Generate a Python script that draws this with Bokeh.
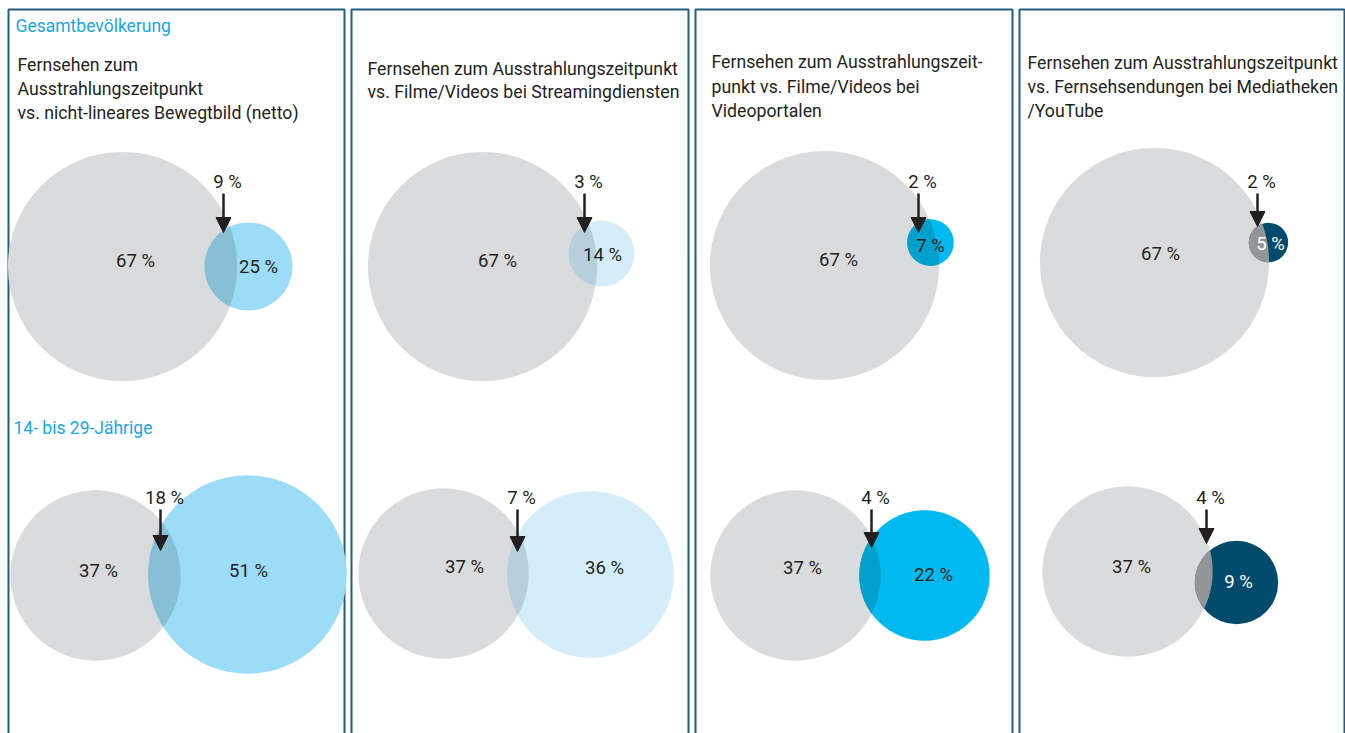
import numpy as np
from bokeh.plotting import figure
from bokeh.models import Range1d, Arrow, NormalHead
from bokeh.core.properties import value
from bokeh.embed import file_html
from bokeh.resources import INLINE

# ---------------- data ----------------
group_labels = ["Gesamtbevölkerung", "14- bis 29-Jährige"]
panel_titles = [
    ["Fernsehen zum", "Ausstrahlungszeitpunkt", "vs. nicht-lineares Bewegtbild (netto)"],
    ["Fernsehen zum Ausstrahlungszeitpunkt", "vs. Filme/Videos bei Streamingdiensten"],
    ["Fernsehen zum Ausstrahlungszeit-", "punkt vs. Filme/Videos bei", "Videoportalen"],
    ["Fernsehen zum Ausstrahlungszeitpunkt", "vs. Fernsehsendungen bei Mediatheken", "/YouTube"],
]
gesamt_tv = [67, 67, 67, 67]
gesamt_other = [25, 14, 7, 5]
gesamt_overlap = [9, 3, 2, 2]
jung_tv = [37, 37, 37, 37]
jung_other = [51, 36, 22, 9]
jung_overlap = [18, 7, 4, 4]

# ---------------- styles / layout ----------------
FONT = "Roboto"
GRAY = "#dadbdd"
DARK = "#231f20"
CYAN = "#1aa6dc"
BORDER = "#235d7e"
sec_colors = ["#9ddcf6", "#d4edf9", "#00b9ee", "#004b6c"]
lens_colors = ["#87bfd7", "#b7cfdb", "#00a0cc", "#939598"]
sec_text_colors = [DARK, DARK, DARK, "white"]

panel_lr = [(8, 344), (351, 688), (695, 1012), (1019, 1344)]
title_x = [17, 367, 711, 1027]
title_y = [[64, 88, 112], [68, 91], [61, 86, 110], [62, 86, 110]]

K_TV = 14.0
K_SEC = [8.8, 13.9]

rows = [
    dict(tv=gesamt_tv, other=gesamt_other, overlap=gesamt_overlap,
         gray_c=[(122, 266), (482, 266), (824, 265), (1154, 262)],
         sec_c=[(248, 266), (601, 253), (930, 242), (1268, 242)],
         arrow_x=[223, 584, 918, 1257], tip_y=[232, 232, 232, 226], label_y=181,
         tv_lab=[(135, 260), (497, 260), (838, 259), (1160, 253)],
         sec_lab=[(258, 266), (602, 254), (930, 245), (1270, 243)]),
    dict(tv=jung_tv, other=jung_other, overlap=jung_overlap,
         gray_c=[(95, 575), (443, 573), (795, 575), (1127, 571)],
         sec_c=[(247, 574), (590, 574), (924, 575), (1236, 582)],
         arrow_x=[160, 517, 871, 1206], tip_y=[550, 551, 547, 543], label_y=497,
         tv_lab=[(98, 570), (464, 566), (802, 567), (1131, 566)],
         sec_lab=[(248, 570), (604, 567), (933, 574), (1238, 581)]),
]
group_pos = [(15, 25), (13, 427)]


def lens(c1, r1, c2, r2, n=60):
    x1, y1 = c1
    x2, y2 = c2
    d = np.hypot(x2 - x1, y2 - y1)
    th = np.arctan2(y2 - y1, x2 - x1)
    a = (r1 ** 2 - r2 ** 2 + d ** 2) / (2 * d)
    a1 = np.arccos(np.clip(a / r1, -1, 1))
    a2 = np.arccos(np.clip((d - a) / r2, -1, 1))
    t1 = np.linspace(th - a1, th + a1, n)
    t2 = np.linspace(th + np.pi - a2, th + np.pi + a2, n)
    xs = np.concatenate([x1 + r1 * np.cos(t1), x2 + r2 * np.cos(t2)])
    ys = np.concatenate([y1 + r1 * np.sin(t1), y2 + r2 * np.sin(t2)])
    return list(xs), list(ys)


p = figure(width=1345, height=733, output_backend="svg", toolbar_location=None,
           x_range=Range1d(0, 1345), y_range=Range1d(733, 0),
           x_axis_type=None, y_axis_type=None, min_border=0)
p.grid.visible = False
p.outline_line_color = None
p.background_fill_color = "white"
p.border_fill_color = "white"

# panel frames
p.quad(left=[l for l, r in panel_lr], right=[r for l, r in panel_lr],
       top=[9] * 4, bottom=[760] * 4, fill_color=None,
       line_color=BORDER, line_width=2)

# group headings
for (gx, gy), g in zip(group_pos, group_labels):
    p.text(x=[gx], y=[gy], text=[g], text_font=value(FONT), text_font_size="17.5px",
           text_color=CYAN, text_align="left", text_baseline="middle")

# titles
for i, lines in enumerate(panel_titles):
    p.text(x=[title_x[i]] * len(lines), y=title_y[i][:len(lines)], text=lines,
           text_font=value(FONT), text_font_size="17.7px", text_color=DARK,
           text_align="left", text_baseline="middle")

for ri, row in enumerate(rows):
    r_tv = [K_TV * np.sqrt(v) for v in row["tv"]]
    r_sec = [K_SEC[ri] * np.sqrt(v) for v in row["other"]]
    p.circle(x=[c[0] for c in row["gray_c"]], y=[c[1] for c in row["gray_c"]],
             radius=r_tv, fill_color=GRAY, line_color=None)
    p.circle(x=[c[0] for c in row["sec_c"]], y=[c[1] for c in row["sec_c"]],
             radius=r_sec, fill_color=sec_colors, line_color=None)
    lx, ly = [], []
    for j in range(4):
        xs, ys = lens(row["gray_c"][j], r_tv[j], row["sec_c"][j], r_sec[j])
        lx.append(xs)
        ly.append(ys)
    p.patches(xs=lx, ys=ly, fill_color=lens_colors, line_color=None)

    p.text(x=[c[0] for c in row["tv_lab"]], y=[c[1] for c in row["tv_lab"]],
           text=[f"{v} %" for v in row["tv"]], text_font=value(FONT),
           text_font_size="18.5px", text_color=DARK, text_align="center",
           text_baseline="middle")
    p.text(x=[c[0] for c in row["sec_lab"]], y=[c[1] for c in row["sec_lab"]],
           text=[f"{v} %" for v in row["other"]], text_font=value(FONT),
           text_font_size="18.5px", text_color=sec_text_colors, text_align="center",
           text_baseline="middle")
    p.text(x=[x + 4 for x in row["arrow_x"]], y=[row["label_y"]] * 4,
           text=[f"{v} %" for v in row["overlap"]], text_font=value(FONT),
           text_font_size="18.5px", text_color=DARK, text_align="center",
           text_baseline="middle")
    for j in range(4):
        ax = row["arrow_x"][j]
        p.add_layout(Arrow(end=NormalHead(size=15, fill_color=DARK, line_color=DARK),
                           x_start=ax, y_start=row["label_y"] + 12,
                           x_end=ax, y_end=row["tip_y"][j],
                           line_color=DARK, line_width=2.5))

open("out.html", "w").write(file_html(p, INLINE))
